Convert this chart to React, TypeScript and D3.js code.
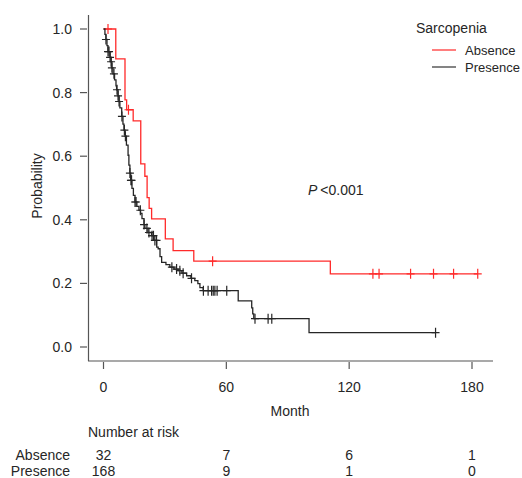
import React from 'react';
import * as d3 from 'd3';

// Kaplan-Meier steps (time in months, survival probability)
const absenceTimes = [0, 6, 10.5, 11.3, 14.5, 18.2, 20.2, 21.3, 22.3, 23.5, 30.2, 34, 44.1, 110.8];
const absenceSurv = [1, 0.906, 0.777, 0.746, 0.711, 0.576, 0.537, 0.47, 0.436, 0.403, 0.34, 0.303, 0.27, 0.23];
const absenceCensor = [2.2, 12.2, 53.3, 131.6, 134.6, 150, 161.2, 171, 182.8];

const presenceTimes = [
  0, 0.7, 1.2, 1.7, 2.2, 3.2, 3.7, 4.1, 4.6, 5.4, 6.1, 6.4, 7.1, 7.6, 8, 8.9, 9.5, 10, 10.5, 11.2,
  12, 12.4, 12.9, 13.3, 13.9, 14.6, 15.4, 16.3, 17.3, 18.1, 18.8, 19.8, 20.2, 21.7, 23.5, 24.6, 26,
  26.7, 27.6, 28.4, 30.5, 32.4, 34.4, 36.5, 38.3, 40.6, 42.7, 44.6, 46.1, 47.1, 48.7, 65.8, 72.4,
  72.9, 73.4, 100.4,
];
const presenceSurv = [
  1, 0.983, 0.967, 0.948, 0.929, 0.911, 0.897, 0.878, 0.859, 0.84, 0.821, 0.809, 0.79, 0.772, 0.752,
  0.725, 0.701, 0.682, 0.663, 0.635, 0.603, 0.572, 0.547, 0.524, 0.499, 0.477, 0.456, 0.442, 0.43,
  0.42, 0.404, 0.385, 0.373, 0.36, 0.35, 0.335, 0.314, 0.309, 0.284, 0.266, 0.259, 0.251, 0.245,
  0.24, 0.232, 0.224, 0.216, 0.209, 0.199, 0.187, 0.177, 0.145, 0.123, 0.104, 0.089, 0.045,
];
const presenceCensor = [
  1.2, 2.2, 2.7, 3.2, 3.7, 4.1, 5.1, 6.6, 7.1, 7.6, 9.0, 10.2, 10.7, 12.9, 13.4, 13.7, 15.4, 15.9,
  18.0, 19.8, 21.2, 22.2, 23.7, 24.4, 25.1, 25.9, 33.4, 35.7, 37.3, 38.9, 43.0, 48.8, 51.1, 52.8,
  53.6, 54.4, 55.5, 60.2, 74, 80.4, 82.2, 162.2,
];

const xTicks = [0, 60, 120, 180];
const yTicks = [0, 0.2, 0.4, 0.6, 0.8, 1.0];

const groups = ['Absence', 'Presence'];
const groupColors = ['#ff2a2a', '#262626'];
const riskAbsence = [32, 7, 6, 1];
const riskPresence = [168, 9, 1, 0];

const FONT = '"Liberation Sans", Arial, sans-serif';
const TEXT = '#262626';
const AXIS = '#555';
const FS = 14;

// survival value at time t from the step arrays
const survAt = (times: number[], surv: number[], t: number) => {
  let v = surv[0];
  for (let i = 0; i < times.length; i++) if (times[i] <= t) v = surv[i];
  return v;
};

export default function App() {
  const x = d3.scaleLinear().domain([0, 180]).range([103.5, 472]);
  const y = d3.scaleLinear().domain([0, 1]).range([347, 29]);

  const line = d3
    .line<[number, number]>()
    .x((d) => x(d[0]))
    .y((d) => y(d[1]))
    .curve(d3.curveStepAfter);

  const curves = [
    { times: absenceTimes, surv: absenceSurv, censor: absenceCensor },
    { times: presenceTimes, surv: presenceSurv, censor: presenceCensor },
  ].map((c, i) => {
    const end = d3.max(c.censor) as number;
    const pts: [number, number][] = c.times.map((t, k) => [t, c.surv[k]]);
    pts.push([end, c.surv[c.surv.length - 1]]);
    return { ...c, path: line(pts) as string, color: groupColors[i] };
  });

  const risk = [riskAbsence, riskPresence];

  return (
    <svg
      width={522}
      height={478}
      style={{ position: 'absolute', left: 0, top: 0, background: '#fff' }}
      fontFamily={FONT}
    >
      <rect width={522} height={478} fill="#fff" />

      {/* axes */}
      <line x1={88.5} x2={88.5} y1={15} y2={361} stroke={AXIS} strokeWidth={1.2} />
      <line x1={88} x2={493} y1={361} y2={361} stroke={AXIS} strokeWidth={1.2} />

      {yTicks.map((v) => (
        <g key={v}>
          <line x1={80} x2={87} y1={y(v)} y2={y(v)} stroke={AXIS} strokeWidth={1.2} />
          <text x={72} y={y(v)} dy="0.35em" textAnchor="end" fontSize={FS} fill={TEXT}>
            {v.toFixed(1)}
          </text>
        </g>
      ))}

      {xTicks.map((v) => (
        <g key={v}>
          <line x1={x(v)} x2={x(v)} y1={362} y2={369} stroke={AXIS} strokeWidth={1.2} />
          <text x={x(v)} y={387} dy="0.35em" textAnchor="middle" fontSize={FS} fill={TEXT}>
            {v}
          </text>
        </g>
      ))}

      <text x={290} y={411} dy="0.35em" textAnchor="middle" fontSize={FS} fill={TEXT}>
        Month
      </text>
      <text
        transform="translate(37,186) rotate(-90)"
        dy="0.35em"
        textAnchor="middle"
        fontSize={FS}
        fill={TEXT}
      >
        Probability
      </text>

      {/* curves */}
      {curves.map((c, i) => (
        <g key={i}>
          <path d={c.path} fill="none" stroke={c.color} strokeWidth={1.3} />
          {c.censor.map((t, k) => {
            const cx = x(t);
            const cy = y(survAt(c.times, c.surv, t));
            return (
              <path
                key={k}
                d={`M${cx - 4},${cy}H${cx + 4}M${cx},${cy - 5}V${cy + 5}`}
                stroke={c.color}
                strokeWidth={1.2}
                fill="none"
              />
            );
          })}
        </g>
      ))}

      {/* p value */}
      <text x={308} y={190} dy="0.35em" fontSize={FS} fill={TEXT}>
        <tspan fontStyle="italic">P</tspan>
        <tspan dx={3}>&lt;0.001</tspan>
      </text>

      {/* legend */}
      <text x={416} y={28} dy="0.35em" fontSize={FS} fill={TEXT}>
        Sarcopenia
      </text>
      {groups.map((g, i) => (
        <g key={g}>
          <line
            x1={432}
            x2={456}
            y1={50 + i * 17}
            y2={50 + i * 17}
            stroke={groupColors[i]}
            strokeWidth={1.5}
            opacity={i === 0 ? 0.8 : 0.75}
          />
          <text x={465} y={50 + i * 17} dy="0.35em" fontSize={13} fill={TEXT}>
            {g}
          </text>
        </g>
      ))}

      {/* number at risk */}
      <text x={88} y={432} dy="0.35em" fontSize={FS} fill={TEXT}>
        Number at risk
      </text>
      {groups.map((g, i) => (
        <g key={g}>
          <text x={70} y={455 + i * 16} dy="0.35em" textAnchor="end" fontSize={FS} fill={TEXT}>
            {g}
          </text>
          {risk[i].map((n, k) => (
            <text
              key={k}
              x={x(xTicks[k])}
              y={455 + i * 16}
              dy="0.35em"
              textAnchor="middle"
              fontSize={FS}
              fill={TEXT}
            >
              {n}
            </text>
          ))}
        </g>
      ))}
    </svg>
  );
}
